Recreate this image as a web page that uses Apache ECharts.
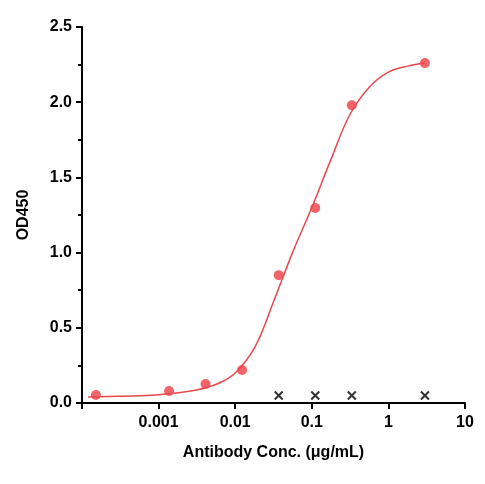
<!DOCTYPE html>
<html><head><meta charset="utf-8">
<script src="https://cdn.jsdelivr.net/npm/echarts@6/dist/echarts.min.js"></script>
<style>html,body{margin:0;padding:0;background:#fff}#c{width:485px;height:484px}</style>
</head><body><div id="c"></div>
<script>
const concs = [0.000152, 0.00137, 0.0041, 0.0123, 0.037, 0.111, 0.333, 3];
const od = [0.053, 0.08, 0.126, 0.22, 0.85, 1.297, 1.98, 2.26];
const blankConcs = [0.037, 0.111, 0.333, 3];
const blankOd = [0.05, 0.05, 0.05, 0.05];
const curveX = [0.00012, 0.0003, 0.001, 0.003, 0.006, 0.01, 0.018, 0.032, 0.056, 0.1, 0.178, 0.316, 0.562, 1, 1.78, 3];
const curveY = [0.04, 0.045, 0.055, 0.085, 0.13, 0.2, 0.37, 0.68, 1.0, 1.3, 1.62, 1.92, 2.1, 2.2, 2.24, 2.26];
const yTicks = [0, 0.5, 1, 1.5, 2, 2.5];
const zip = (a, b) => a.map((v, i) => [v, b[i]]);
const chart = echarts.init(document.getElementById('c'));
const font = 'Arial, Liberation Sans, sans-serif';
chart.setOption({
  animation: false,
  grid: {left: 82, right: 20, top: 27, bottom: 81},
  xAxis: {
    type: 'log', logBase: 10, min: 0.0001, max: 10,
    name: 'Antibody Conc. (μg/mL)', nameLocation: 'middle', nameGap: 42,
    nameTextStyle: {fontFamily: font, fontWeight: 'bold', fontSize: 16, color: '#000'},
    axisLine: {lineStyle: {color: '#000', width: 2}},
    axisTick: {show: true, length: 6, lineStyle: {color: '#000', width: 2}},
    axisLabel: {fontFamily: font, fontWeight: 'bold', fontSize: 16, color: '#000', margin: 12,
      formatter: v => v < 0.0005 ? '' : String(+v.toPrecision(1))},
    splitLine: {show: false}
  },
  yAxis: {
    type: 'value', min: 0, max: 2.5, interval: 0.5,
    name: 'OD450', nameLocation: 'middle', nameGap: 50,
    nameTextStyle: {fontFamily: font, fontWeight: 'bold', fontSize: 16, color: '#000'},
    axisLine: {show: true, lineStyle: {color: '#000', width: 2}},
    axisTick: {show: true, length: 6, lineStyle: {color: '#000', width: 2}},
    minorTick: {show: true, splitNumber: 2, length: 4, lineStyle: {color: '#000', width: 2}},
    axisLabel: {fontFamily: font, fontWeight: 'bold', fontSize: 16, color: '#000', margin: 10,
      formatter: v => yTicks.includes(v) ? v.toFixed(1) : ''},
    splitLine: {show: false}
  },
  series: [
    {type: 'line', data: zip(curveX, curveY), smooth: 0.4, symbol: 'none',
     lineStyle: {color: '#e8474b', width: 1.5}},
    {type: 'scatter', data: zip(concs, od), symbolSize: 10, itemStyle: {color: '#ee3f45'}},
    {type: 'scatter', data: zip(blankConcs, blankOd), symbol: 'path://M0,0L10,10M10,0L0,10', symbolSize: 8,
     itemStyle: {color: 'none', borderColor: '#000', borderWidth: 2}}
  ]
});
</script></body></html>
